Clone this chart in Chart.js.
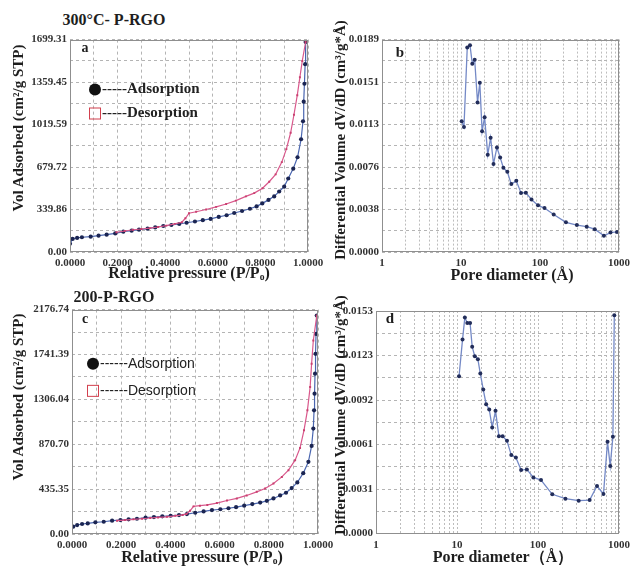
<!DOCTYPE html>
<html><head><meta charset="utf-8">
<script src="https://cdn.jsdelivr.net/npm/chart.js@4/dist/chart.umd.min.js"></script>
<style>
body{margin:0;background:#fff;width:635px;height:566px;position:relative;overflow:hidden;font-family:'Liberation Serif',serif;}
canvas{position:absolute;}
.t{position:absolute;white-space:nowrap;font-weight:bold;color:#1e1e1e;transform:translate(-50%,-50%);line-height:1;}
.rot{transform:translate(-50%,-50%) rotate(-90deg);}
.leg{position:absolute;white-space:nowrap;transform:translateY(-50%);line-height:1;color:#222;}
.dot{display:inline-block;width:12px;height:12px;border-radius:50%;background:#111;vertical-align:middle;margin-right:1px;}
.sq{display:inline-block;width:10px;height:10px;border:1.3px solid #d2404e;vertical-align:middle;margin-right:1px;}
sub{font-size:60%;vertical-align:-2px;}
</style></head><body>
<canvas id="ca" width="330" height="250" style="left:0;top:30px"></canvas>
<canvas id="cb" width="310" height="250" style="left:325px;top:30px"></canvas>
<canvas id="cc" width="340" height="266" style="left:0;top:300px"></canvas>
<canvas id="cd" width="310" height="266" style="left:325px;top:300px"></canvas>

<div class="t" style="left:114px;top:20px;font-size:16px">300°C- P-RGO</div>
<div class="t" style="left:114px;top:297px;font-size:16px">200-P-RGO</div>

<div class="t" style="left:85px;top:48px;font-size:14px">a</div>
<div class="t" style="left:400px;top:52px;font-size:15px">b</div>
<div class="t" style="left:85px;top:319px;font-size:14px">c</div>
<div class="t" style="left:390px;top:318px;font-size:15px">d</div>

<div class="t rot" style="left:18px;top:128px;font-size:15px">Vol Adsorbed (cm²/g STP)</div>
<div class="t rot" style="left:18px;top:397px;font-size:15px">Vol Adsorbed (cm²/g STP)</div>
<div class="t rot" style="left:340px;top:140px;font-size:15px">Differential Volume dV/dD (cm³/g*Å)</div>
<div class="t rot" style="left:340px;top:415px;font-size:15px">Differential Volume dV/dD (cm³/g*Å)</div>

<div class="t" style="left:189px;top:273px;font-size:16px">Relative pressure (P/P<sub>o</sub>)</div>
<div class="t" style="left:202px;top:557px;font-size:16px">Relative pressure (P/P<sub>o</sub>)</div>
<div class="t" style="left:512px;top:275px;font-size:16px">Pore diameter (Å)</div>
<div class="t" style="left:503px;top:557px;font-size:16px">Pore diameter（Å）</div>

<div class="leg" style="left:89px;top:88px;font-size:15px;font-weight:bold"><span class="dot"></span>-----Adsorption</div>
<div class="leg" style="left:89px;top:112px;font-size:15px;font-weight:bold"><span class="sq"></span>-----Desorption</div>
<div class="leg" style="left:87px;top:363px;font-size:14px;font-family:'Liberation Sans',sans-serif"><span class="dot"></span>------Adsorption</div>
<div class="leg" style="left:87px;top:390px;font-size:14px;font-family:'Liberation Sans',sans-serif"><span class="sq"></span>------Desorption</div>

<script>
// ---- Panel a : 300°C- P-RGO isotherm ----
const aAdsP = [0.000,0.011,0.030,0.050,0.087,0.120,0.154,0.190,0.224,0.259,0.290,0.326,0.358,0.392,0.426,0.459,0.490,0.525,0.558,0.591,0.625,0.658,0.690,0.723,0.756,0.784,0.808,0.834,0.858,0.879,0.900,0.917,0.938,0.956,0.971,0.979,0.982,0.985,0.988,0.990];
const aAdsV = [66,105,113,118,123,131,139,149,163,171,179,187,197,208,216,224,234,244,255,265,281,294,312,328,346,365,389,417,445,484,523,588,667,758,902,1046,1203,1346,1503,1680];
const aDesP = [0.990,0.976,0.966,0.955,0.941,0.927,0.909,0.890,0.864,0.837,0.809,0.774,0.739,0.697,0.656,0.614,0.572,0.530,0.500,0.485,0.470,0.440,0.405,0.370,0.335,0.300,0.265,0.230,0.195];
const aDesV = [1680,1529,1399,1255,1098,954,823,719,621,562,510,471,445,411,384,361,340,322,310,270,238,225,211,200,191,184,178,168,158];
const aYMax = 1699.31;
const aYLabels = ['0.00','','339.86','','679.72','','1019.59','','1359.45','','1699.31'];
const pXLabels = ['0.0000','','0.2000','','0.4000','','0.6000','','0.8000','','1.0000'];

// ---- Panel b : 300°C pore size distribution ----
const bDiam = [10.2,10.9,12.0,13.0,13.9,14.9,16.2,17.3,18.5,19.9,21.8,23.7,25.8,28.5,31.3,34.4,38.6,43.3,50.1,57.5,66.1,78.0,94.4,114,149,213,293,390,493,644,780,943];
const bDv = [0.01163,0.01113,0.0182,0.0184,0.01674,0.0171,0.01331,0.01506,0.01075,0.0120,0.00866,0.01017,0.00784,0.0093,0.00842,0.00749,0.00714,0.00604,0.00633,0.00526,0.00528,0.00467,0.00415,0.00391,0.00333,0.00264,0.0024,0.00225,0.00203,0.00144,0.00173,0.00179];
const bYMax = 0.0189;
const bYLabels = ['0.0000','','0.0038','','0.0076','','0.0113','','0.0151','','0.0189'];

// ---- Panel c : 200-P-RGO isotherm ----
const cAdsP = [0.005,0.021,0.041,0.064,0.095,0.129,0.163,0.197,0.230,0.264,0.299,0.333,0.367,0.401,0.435,0.467,0.501,0.535,0.569,0.603,0.636,0.667,0.700,0.733,0.765,0.792,0.819,0.846,0.870,0.893,0.916,0.940,0.961,0.974,0.981,0.984,0.986,0.988,0.990,0.992,0.995];
const cAdsV = [71,87,97,103,113,119,129,135,142,148,158,164,171,177,184,193,206,219,232,240,250,260,275,290,305,322,345,374,400,445,500,590,700,854,1023,1200,1361,1555,1748,1941,2119];
const cDesP = [0.995,0.981,0.974,0.968,0.957,0.943,0.927,0.907,0.880,0.853,0.819,0.785,0.751,0.710,0.670,0.630,0.589,0.550,0.520,0.494,0.480,0.465,0.450,0.420,0.386,0.350,0.318,0.285,0.250,0.215,0.183];
const cDesV = [2119,1877,1651,1425,1200,1006,835,716,619,554,490,442,409,374,345,325,300,282,275,268,225,195,185,176,167,161,155,148,142,135,129];
const cYMax = 2176.74;
const cYLabels = ['0.00','','435.35','','870.70','','1306.04','','1741.39','','2176.74'];

// ---- Panel d : 200-P-RGO pore size distribution ----
const dDiam = [10.6,11.7,12.5,13.4,14.5,15.4,16.6,18.1,19.4,21.1,22.9,25.0,27.2,29.9,32.9,36.6,41.4,46.8,53.3,61.9,72.8,87.7,108.9,150,218,318,434,535,643,722,779,841,875];
const dDv = [0.01083,0.01335,0.01487,0.0145,0.0145,0.01285,0.0122,0.0120,0.01101,0.00991,0.0089,0.00854,0.0073,0.00845,0.0067,0.0067,0.00638,0.0054,0.00524,0.00437,0.00441,0.00386,0.00368,0.0027,0.0024,0.00226,0.0023,0.00327,0.00272,0.00631,0.00464,0.00666,0.01502];
const dYMax = 0.01532;
const dYLabels = ['0.0000','','0.0031','','0.0061','','0.0092','','0.0123','','0.0153'];

const logXVals = [1,10,100,1000];
const logXLabels = ['1','10','100','1000'];

// ---- helpers ----
const TICKFONT = {family:"'Liberation Serif', serif", size:11, weight:'bold'};
const GRIDCOLOR = '#b4b4b4';
const frame = {id:'frame', afterDraw(c){const a=c.chartArea,ctx=c.ctx;ctx.save();ctx.strokeStyle='#8f8f8f';ctx.lineWidth=1;ctx.strokeRect(Math.round(a.left)+0.5,Math.round(a.top)+0.5,Math.round(a.right-a.left)-1,Math.round(a.bottom-a.top)-1);ctx.restore();}};
function linTicks(max,n){const t=[];for(let i=0;i<=n;i++)t.push({value:max*i/n});return t;}
function logTicks(){const t=[];for(let e=0;e<3;e++){const b=Math.pow(10,e);for(let m=1;m<10;m++)t.push({value:b*m});}t.push({value:1000});return t;}
function pts(xs,ys){return xs.map((x,i)=>({x:x,y:ys[i]}));}

function yAxis(max,labels,w,pad){
  return {type:'linear',min:0,max:max,
    afterBuildTicks:s=>{s.ticks=linTicks(max,10);},
    afterFit:s=>{s.width=w;},
    ticks:{padding:pad,autoSkip:false,font:TICKFONT,color:'#333',callback:(v,i)=>labels[i]},
    grid:{color:GRIDCOLOR,drawTicks:false,lineWidth:1},
    border:{display:false,dash:[3,3]}};
}
function xLin(h){
  return {type:'linear',min:0,max:1,
    afterBuildTicks:s=>{s.ticks=linTicks(1,10);},
    afterFit:s=>{s.height=h;},
    ticks:{padding:5,autoSkip:false,maxRotation:0,font:TICKFONT,color:'#333',callback:(v,i)=>pXLabels[i]},
    grid:{color:GRIDCOLOR,drawTicks:false,lineWidth:1},
    border:{display:false,dash:[3,3]}};
}
function xLog(h){
  return {type:'logarithmic',min:1,max:1000,
    afterBuildTicks:s=>{s.ticks=logTicks();},
    afterFit:s=>{s.height=h;},
    ticks:{padding:5,autoSkip:false,maxRotation:0,font:TICKFONT,color:'#333',
      callback:(v)=>{const k=logXVals.indexOf(v);return k>=0?logXLabels[k]:'';}},
    grid:{color:'#bdbdbd',drawTicks:false,lineWidth:1},
    border:{display:false,dash:[2,2]}};
}
const base = {responsive:false,animation:false,events:[],plugins:{legend:{display:false},tooltip:{enabled:false}}};

function iso(id,adsP,adsV,desP,desV,yMax,yLabels,yW,yPad,xH,padTop,padRight){
  new Chart(document.getElementById(id),{type:'scatter',
    data:{datasets:[
      {data:pts(desP,desV),showLine:true,borderColor:'#d9588c',borderWidth:1.2,pointRadius:1.4,pointStyle:'rect',pointBackgroundColor:'#c9406f',pointBorderWidth:0,tension:0},
      {data:pts(adsP,adsV),showLine:true,borderColor:'#4a66b0',borderWidth:1.2,pointRadius:2.1,pointBackgroundColor:'#1b2552',pointBorderWidth:0,tension:0}
    ]},
    options:Object.assign({},base,{layout:{padding:{top:padTop,right:padRight,left:0,bottom:0}},
      scales:{x:xLin(xH),y:yAxis(yMax,yLabels,yW,yPad)}}),
    plugins:[frame]});
}
function psd(id,dia,dv,yMax,yLabels,yW,yPad,xH,padTop,padRight){
  new Chart(document.getElementById(id),{type:'scatter',
    data:{datasets:[
      {data:pts(dia,dv),showLine:true,borderColor:'#7489c6',borderWidth:1.3,pointRadius:2,pointBackgroundColor:'#222d5a',pointBorderWidth:0,tension:0}
    ]},
    options:Object.assign({},base,{layout:{padding:{top:padTop,right:padRight,left:0,bottom:0}},
      scales:{x:xLog(xH),y:yAxis(yMax,yLabels,yW,yPad)}}),
    plugins:[frame]});
}

iso('ca',aAdsP,aAdsV,aDesP,aDesV,aYMax,aYLabels,70,3,28,7,22);
psd('cb',bDiam,bDv,bYMax,bYLabels,57,3,28,6,13);
iso('cc',cAdsP,cAdsV,cDesP,cDesV,cYMax,cYLabels,72,3,32,9.5,22);
psd('cd',dDiam,dDv,dYMax,dYLabels,51,3,32.5,11,13);
</script>
</body></html>
